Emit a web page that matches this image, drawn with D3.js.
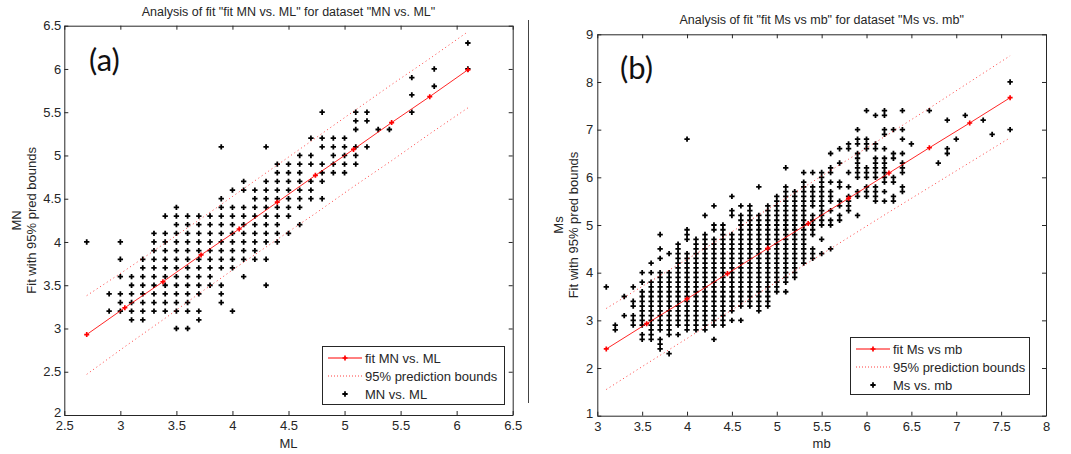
<!DOCTYPE html>
<html>
  <head>
    <meta charset="utf-8" />
    <title>Analysis of fit</title>
    <style>
      body { margin: 0; background: #fff; }
      svg { display: block; font-family: "Liberation Sans", Arial, sans-serif; }
    </style>
  </head>
  <body>
    <svg id="chart" width="1071" height="454"></svg>
    <script src="https://d3js.org/d3.v7.min.js"></script>
    <script>
      // ---- panel (a): MN vs. ML ----
      const mlCols = [2.7, 2.9, 3.0, 3.1, 3.2, 3.3, 3.4, 3.5, 3.6, 3.7, 3.8, 3.9, 4.0, 4.1, 4.2,
        4.3, 4.4, 4.5, 4.6, 4.7, 4.8, 4.9, 5.0, 5.1, 5.2, 5.3, 5.4, 5.6, 5.8, 6.1];
      const mnCols = [
        [4.0],
        [3.4, 3.2],
        [4.0, 3.8, 3.6, 3.4, 3.3, 3.2],
        [3.6, 3.5, 3.4, 3.3, 3.2, 3.1],
        [3.8, 3.7, 3.6, 3.5, 3.4, 3.3, 3.2, 3.1],
        [4.1, 4.0, 3.9, 3.8, 3.7, 3.6, 3.5, 3.4, 3.3, 3.2],
        [4.3, 4.1, 4.0, 3.9, 3.8, 3.7, 3.6, 3.5, 3.4, 3.3, 3.2],
        [4.4, 4.3, 4.2, 4.1, 4.0, 3.9, 3.8, 3.7, 3.6, 3.5, 3.4, 3.3, 3.2, 3.0],
        [4.3, 4.2, 4.1, 4.0, 3.9, 3.8, 3.7, 3.6, 3.5, 3.4, 3.3, 3.2, 3.0],
        [4.3, 4.2, 4.1, 4.0, 3.9, 3.8, 3.7, 3.6, 3.5, 3.4, 3.2, 3.1],
        [4.3, 4.2, 4.1, 4.0, 3.9, 3.8, 3.7, 3.6, 3.5],
        [5.1, 4.5, 4.4, 4.3, 4.2, 4.1, 4.0, 3.9, 3.8, 3.7, 3.5, 3.4, 3.3],
        [4.6, 4.4, 4.3, 4.2, 4.1, 4.0, 3.9, 3.8, 3.7, 3.2],
        [4.7, 4.6, 4.4, 4.3, 4.2, 4.1, 4.0, 3.9, 3.8, 3.6],
        [4.6, 4.5, 4.4, 4.3, 4.2, 4.1, 4.0, 3.9, 3.8],
        [5.1, 4.7, 4.6, 4.5, 4.4, 4.3, 4.2, 4.1, 4.0, 3.8, 3.5],
        [4.9, 4.8, 4.7, 4.6, 4.5, 4.4, 4.3, 4.2, 4.1, 4.0],
        [4.9, 4.8, 4.7, 4.6, 4.5, 4.4, 4.3, 4.1],
        [5.0, 4.9, 4.8, 4.7, 4.6, 4.5, 4.4, 4.2],
        [5.2, 5.0, 4.9, 4.7, 4.6, 4.5],
        [5.5, 5.2, 5.1, 4.9, 4.8, 4.7, 4.5],
        [5.2, 5.1, 5.0, 4.9, 4.8],
        [5.2, 5.1, 5.0, 4.9, 4.8],
        [5.5, 5.4, 5.3, 5.1, 5.0, 4.9],
        [5.5, 5.4, 5.1],
        [5.3],
        [5.3],
        [5.9, 5.7, 5.5],
        [6.0, 5.8],
        [6.3, 6.0]
      ];
      const fitAx = [2.7, 3.04, 3.38, 3.72, 4.06, 4.4, 4.74, 5.08, 5.42, 5.76, 6.1];
      const fitAy = [2.93, 3.24, 3.54, 3.85, 4.15, 4.46, 4.77, 5.07, 5.38, 5.68, 5.99];
      const upperA = [3.38, 3.67, 3.97, 4.27, 4.58, 4.89, 5.2, 5.51, 5.82, 6.12, 6.43];
      const lowerA = [2.47, 2.79, 3.1, 3.42, 3.73, 4.03, 4.33, 4.64, 4.94, 5.25, 5.55];
      const xTicksA = [2.5, 3, 3.5, 4, 4.5, 5, 5.5, 6, 6.5];
      const yTicksA = [2, 2.5, 3, 3.5, 4, 4.5, 5, 5.5, 6, 6.5];

      // ---- panel (b): Ms vs. mb ----
      const mbCols = [3.1, 3.2, 3.3, 3.4, 3.5, 3.6, 3.7, 3.8, 3.9, 4.0, 4.1, 4.2, 4.3, 4.4, 4.5,
        4.6, 4.7, 4.8, 4.9, 5.0, 5.1, 5.2, 5.3, 5.4, 5.5, 5.6, 5.7, 5.8, 5.9, 6.0, 6.1, 6.2,
        6.3, 6.4, 6.5, 6.7, 6.8, 6.9, 7.0, 7.1, 7.3, 7.4, 7.6];
      const msCols = [
        [3.7],
        [2.9, 2.8],
        [3.5, 3.1],
        [3.7, 3.4, 3.3, 3.1, 3.0, 2.9],
        [4.0, 3.8, 3.6, 3.5, 3.4, 3.3, 3.2, 3.1, 3.0, 2.9, 2.7, 2.6],
        [4.2, 4.0, 3.8, 3.7, 3.6, 3.5, 3.4, 3.3, 3.2, 3.1, 3.0, 2.9, 2.8, 2.7, 2.6],
        [4.8, 4.5, 4.3, 4.0, 3.9, 3.8, 3.7, 3.6, 3.5, 3.4, 3.3, 3.2, 3.1, 3.0, 2.9, 2.8, 2.6, 2.5, 2.4],
        [4.4, 4.0, 3.9, 3.8, 3.7, 3.6, 3.5, 3.4, 3.3, 3.2, 3.1, 3.0, 2.9, 2.8, 2.7, 2.3],
        [4.6, 4.5, 4.4, 4.3, 4.2, 4.1, 4.0, 3.9, 3.8, 3.7, 3.6, 3.5, 3.4, 3.3, 3.2, 3.1, 3.0, 2.9, 2.7],
        [6.8, 4.9, 4.8, 4.7, 4.4, 4.3, 4.2, 4.1, 4.0, 3.9, 3.8, 3.7, 3.6, 3.5, 3.4, 3.3, 3.2, 3.1, 3.0, 2.9, 2.8],
        [4.7, 4.6, 4.5, 4.4, 4.3, 4.2, 4.1, 4.0, 3.9, 3.8, 3.7, 3.6, 3.5, 3.4, 3.3, 3.2, 3.1, 3.0, 2.9, 2.8],
        [5.2, 4.8, 4.7, 4.6, 4.5, 4.4, 4.3, 4.2, 4.1, 4.0, 3.9, 3.8, 3.7, 3.6, 3.5, 3.4, 3.3, 3.2, 3.1, 3.0, 2.9, 2.8],
        [5.4, 5.0, 4.9, 4.7, 4.6, 4.5, 4.4, 4.3, 4.2, 4.1, 4.0, 3.9, 3.8, 3.7, 3.6, 3.5, 3.4, 3.3, 3.2, 3.1, 3.0, 2.9, 2.6],
        [5.0, 4.9, 4.8, 4.7, 4.6, 4.5, 4.4, 4.3, 4.2, 4.1, 4.0, 3.9, 3.8, 3.7, 3.6, 3.5, 3.4, 3.3, 3.2, 3.1, 3.0, 2.9],
        [5.6, 5.3, 5.2, 4.8, 4.7, 4.6, 4.5, 4.4, 4.3, 4.2, 4.1, 4.0, 3.9, 3.8, 3.7, 3.6, 3.5, 3.4, 3.3, 3.2, 3.0],
        [5.4, 5.2, 5.1, 5.0, 4.9, 4.8, 4.7, 4.6, 4.5, 4.4, 4.3, 4.2, 4.1, 4.0, 3.9, 3.8, 3.7, 3.6, 3.5, 3.4, 3.3, 3.0],
        [5.4, 5.3, 5.2, 5.1, 5.0, 4.9, 4.8, 4.7, 4.6, 4.5, 4.4, 4.3, 4.2, 4.1, 4.0, 3.9, 3.8, 3.7, 3.6, 3.5, 3.4, 3.3],
        [5.8, 5.2, 5.1, 5.0, 4.9, 4.8, 4.7, 4.6, 4.5, 4.4, 4.3, 4.2, 4.1, 4.0, 3.9, 3.8, 3.7, 3.6, 3.5, 3.4, 3.3, 3.2],
        [5.4, 5.3, 5.2, 5.1, 5.0, 4.9, 4.8, 4.7, 4.6, 4.5, 4.4, 4.3, 4.2, 4.1, 4.0, 3.9, 3.8, 3.7, 3.6, 3.5, 3.4, 3.3],
        [5.6, 5.5, 5.4, 5.3, 5.2, 5.1, 5.0, 4.9, 4.8, 4.7, 4.6, 4.5, 4.4, 4.3, 4.2, 4.1, 4.0, 3.9, 3.8, 3.7, 3.6],
        [6.2, 5.8, 5.7, 5.6, 5.5, 5.4, 5.3, 5.2, 5.1, 5.0, 4.9, 4.8, 4.7, 4.6, 4.5, 4.4, 4.3, 4.2, 4.1, 4.0, 3.9, 3.8, 3.6],
        [5.7, 5.6, 5.5, 5.4, 5.3, 5.2, 5.1, 5.0, 4.9, 4.8, 4.7, 4.6, 4.5, 4.4, 4.3, 4.2, 4.1, 4.0, 3.9],
        [6.1, 5.9, 5.8, 5.7, 5.6, 5.5, 5.4, 5.3, 5.2, 5.1, 5.0, 4.9, 4.8, 4.7, 4.6, 4.5, 4.4, 4.3, 4.2],
        [6.1, 5.8, 5.7, 5.6, 5.5, 5.4, 5.2, 5.1, 5.0, 4.9, 4.8, 4.5, 4.4, 4.3],
        [6.1, 6.0, 5.9, 5.8, 5.7, 5.6, 5.5, 5.4, 5.3, 5.2, 5.1, 5.0, 4.7, 4.4],
        [6.5, 6.2, 6.1, 5.9, 5.7, 5.6, 5.5, 5.3, 5.1, 5.0, 4.5],
        [6.6, 6.3, 5.9, 5.8, 5.5, 5.4, 5.2, 5.1],
        [6.7, 6.6, 6.1, 5.8, 5.6, 5.5, 5.4, 5.3],
        [7.0, 6.8, 6.7, 6.5, 6.4, 6.3, 6.2, 6.1, 6.0, 5.7, 5.6, 5.2],
        [7.4, 6.8, 6.7, 6.6, 6.2, 6.1, 6.0, 5.8, 5.7, 5.6],
        [7.3, 6.7, 6.6, 6.4, 6.3, 6.2, 6.1, 6.0, 5.8, 5.7, 5.6, 5.5],
        [7.4, 7.3, 7.0, 6.9, 6.6, 6.4, 6.3, 6.2, 6.1, 6.0, 5.9, 5.7, 5.5],
        [7.0, 6.5, 6.4, 6.0, 5.9, 5.6, 5.5],
        [7.4, 7.0, 6.8, 6.5, 6.3, 6.2, 6.1, 5.8, 5.7],
        [6.7],
        [7.4],
        [6.3],
        [7.2, 6.6, 6.5],
        [6.8],
        [7.3],
        [7.2],
        [6.9],
        [8.0, 7.0]
      ];
      const fitBx = [3.1, 3.55, 4.0, 4.45, 4.9, 5.35, 5.8, 6.25, 6.7, 7.15, 7.6];
      const fitBy = [2.4, 2.93, 3.45, 3.98, 4.51, 5.03, 5.56, 6.09, 6.62, 7.14, 7.67];
      const upperB = [3.25, 3.77, 4.28, 4.8, 5.33, 5.85, 6.38, 6.91, 7.45, 8.0, 8.55];
      const lowerB = [1.55, 2.09, 2.62, 3.16, 3.69, 4.21, 4.74, 5.27, 5.79, 6.31, 6.83];
      const xTicksB = [3, 3.5, 4, 4.5, 5, 5.5, 6, 6.5, 7, 7.5, 8];
      const yTicksB = [1, 2, 3, 4, 5, 6, 7, 8, 9];

      const svg = d3.select("#chart");
      const ink = "#262626";
      const red = "#ff0000";
      const dot = d3.symbol().type(d3.symbolCross);

      // thin separator between the two figures
      svg.append("line")
        .attr("x1", 528.5).attr("x2", 528.5)
        .attr("y1", 20).attr("y2", 403)
        .attr("stroke", "#444").attr("stroke-width", 1);

      function drawPanel(p) {
        let x = d3.scaleLinear().domain(p.xDomain).range([p.left, p.right]);
        let y = d3.scaleLinear().domain(p.yDomain).range([p.bottom, p.top]);
        let fmt = d3.format("~g");

        // axes (MATLAB box with inward ticks on all sides)
        let styleAxis = (g) => {
          g.selectAll(".domain").attr("stroke", ink).attr("fill", "none");
          g.selectAll(".tick line").attr("stroke", ink);
          g.selectAll(".tick text")
            .attr("fill", ink)
            .style("font-size", "13px")
            .style("font-family", "Liberation Sans, Arial, sans-serif");
        };
        svg.append("g")
          .attr("transform", "translate(0," + p.bottom + ")")
          .call(d3.axisBottom(x).tickValues(p.xTicks).tickFormat(fmt).tickSizeInner(-4).tickSizeOuter(0).tickPadding(6))
          .call(styleAxis);
        svg.append("g")
          .attr("transform", "translate(0," + p.top + ")")
          .call(d3.axisTop(x).tickValues(p.xTicks).tickFormat("").tickSizeInner(-4).tickSizeOuter(0))
          .call(styleAxis);
        let yAxis = svg.append("g")
          .attr("transform", "translate(" + p.left + ",0)")
          .call(d3.axisLeft(y).tickValues(p.yTicks).tickFormat(fmt).tickSizeInner(-4).tickSizeOuter(0).tickPadding(p.yPad))
          .call(styleAxis);
        // lowest y label sits right on the x labels in the original; lift it a hair
        yAxis.selectAll(".tick text").filter((d) => d === p.yDomain[0]).attr("dy", "0.1em");
        svg.append("g")
          .attr("transform", "translate(" + p.right + ",0)")
          .call(d3.axisRight(y).tickValues(p.yTicks).tickFormat("").tickSizeInner(-4).tickSizeOuter(0))
          .call(styleAxis);

        // titles and axis labels
        svg.append("text")
          .attr("x", (p.left + p.right) / 2).attr("y", p.top - 10)
          .attr("text-anchor", "middle").attr("fill", ink)
          .style("font-size", "12.5px")
          .text(p.title);
        svg.append("text")
          .attr("x", (p.left + p.right) / 2).attr("y", 448)
          .attr("text-anchor", "middle").attr("fill", ink)
          .style("font-size", "13px")
          .text(p.xLabel);
        let midY = (p.top + p.bottom) / 2;
        svg.append("text")
          .attr("transform", "translate(" + p.yLab1 + "," + midY + ") rotate(-90)")
          .attr("text-anchor", "middle").attr("fill", ink)
          .style("font-size", "13px")
          .text(p.yLabel);
        svg.append("text")
          .attr("transform", "translate(" + p.yLab2 + "," + midY + ") rotate(-90)")
          .attr("text-anchor", "middle").attr("fill", ink)
          .style("font-size", "13px")
          .text("Fit with 95% pred bounds");

        // panel letter
        svg.append("text")
          .attr("x", p.tagX).attr("y", p.tagY)
          .style("font-family", "Lato, 'Open Sans', sans-serif")
          .style("font-size", "31px")
          .attr("fill", "#111")
          .text(p.tag);

        // scatter points
        let pts = [];
        p.cols.forEach((c, i) => p.vals[i].forEach((v) => pts.push([c, v])));
        svg.append("g")
          .selectAll("path")
          .data(pts)
          .join("path")
          .attr("d", dot.size(16))
          .attr("transform", (d) => "translate(" + x(d[0]) + "," + y(d[1]) + ")")
          .attr("fill", "#000");

        // prediction bounds
        let line = d3.line().x((d) => x(d[0])).y((d) => y(d[1]));
        [p.upper, p.lower].forEach((b) => {
          svg.append("path")
            .datum(p.fitX.map((v, i) => [v, b[i]]))
            .attr("d", line)
            .attr("fill", "none")
            .attr("stroke", red)
            .attr("stroke-opacity", 0.75)
            .attr("stroke-width", 1)
            .attr("stroke-dasharray", "1,3");
        });

        // fit line with markers
        let fitPts = p.fitX.map((v, i) => [v, p.fitY[i]]);
        svg.append("path")
          .datum(fitPts)
          .attr("d", line)
          .attr("fill", "none")
          .attr("stroke", red)
          .attr("stroke-opacity", 0.85)
          .attr("stroke-width", 1);
        svg.append("g")
          .selectAll("path")
          .data(fitPts)
          .join("path")
          .attr("d", dot.size(14))
          .attr("transform", (d) => "translate(" + x(d[0]) + "," + y(d[1]) + ")")
          .attr("fill", red);

        // legend
        let lg = svg.append("g").attr("transform", "translate(" + p.legX + "," + p.legY + ")");
        lg.append("rect")
          .attr("x", 0.5).attr("y", 0.5)
          .attr("width", p.legW).attr("height", p.legH)
          .attr("fill", "#fff").attr("stroke", ink);
        let rowY = [12, 30, 48];
        lg.append("line")
          .attr("x1", 6).attr("x2", 40).attr("y1", rowY[0]).attr("y2", rowY[0])
          .attr("stroke", red);
        lg.append("path")
          .attr("d", dot.size(14))
          .attr("transform", "translate(23," + rowY[0] + ")")
          .attr("fill", red);
        lg.append("line")
          .attr("x1", 6).attr("x2", 40).attr("y1", rowY[1]).attr("y2", rowY[1])
          .attr("stroke", red).attr("stroke-opacity", 0.75)
          .attr("stroke-dasharray", "1,2");
        lg.append("path")
          .attr("d", dot.size(16))
          .attr("transform", "translate(23," + rowY[2] + ")")
          .attr("fill", "#000");
        lg.selectAll("text.entry")
          .data(p.legend)
          .join("text")
          .attr("class", "entry")
          .attr("x", 43)
          .attr("y", (d, i) => rowY[i] + 4.5)
          .attr("fill", ink)
          .style("font-size", "13px")
          .text((d) => d);
      }

      drawPanel({
        left: 64.3, right: 512.7, top: 25.7, bottom: 415,
        xDomain: [2.5, 6.5], yDomain: [2, 6.5],
        xTicks: xTicksA, yTicks: yTicksA, yPad: 3,
        title: 'Analysis of fit "fit MN vs. ML" for dataset "MN vs. ML"',
        xLabel: "ML", yLabel: "MN", yLab1: 21, yLab2: 36,
        tag: "(a)", tagX: 89, tagY: 71,
        cols: mlCols, vals: mnCols,
        fitX: fitAx, fitY: fitAy, upper: upperA, lower: lowerA,
        legX: 322, legY: 346, legW: 182, legH: 58,
        legend: ["fit MN vs. ML", "95% prediction bounds", "MN vs. ML"]
      });

      drawPanel({
        left: 597.3, right: 1046, top: 34.3, bottom: 415.7,
        xDomain: [3, 8], yDomain: [1, 9],
        xTicks: xTicksB, yTicks: yTicksB, yPad: 4,
        title: 'Analysis of fit "fit Ms vs mb" for dataset "Ms vs. mb"',
        xLabel: "mb", yLabel: "Ms", yLab1: 563, yLab2: 578,
        tag: "(b)", tagX: 620, tagY: 79,
        cols: mbCols, vals: msCols,
        fitX: fitBx, fitY: fitBy, upper: upperB, lower: lowerB,
        legX: 850, legY: 337, legW: 179, legH: 57,
        legend: ["fit Ms vs mb", "95% prediction bounds", "Ms vs. mb"]
      });
    </script>
  </body>
</html>
